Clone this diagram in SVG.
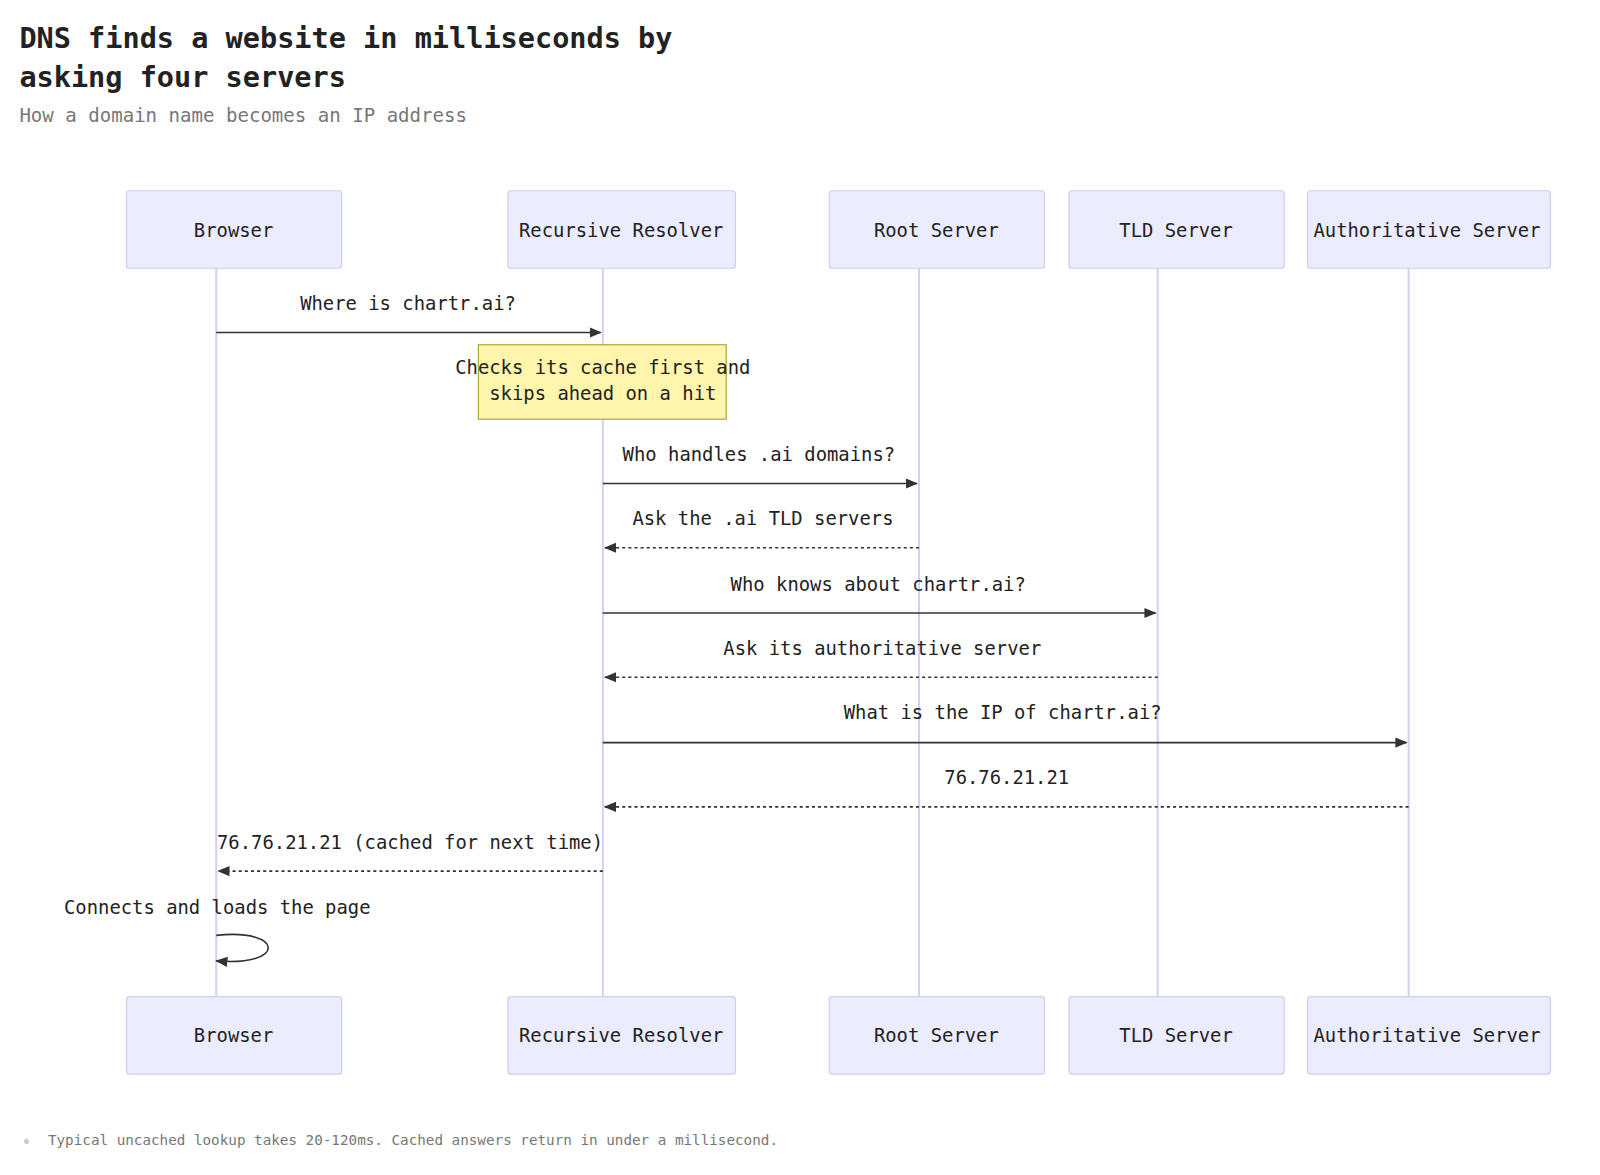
<svg xmlns="http://www.w3.org/2000/svg" width="1600" height="1175" viewBox="0 0 1600 1175">
<style>
text{font-family:"DejaVu Sans Mono","Liberation Mono",monospace;fill:#222}
.actor rect{fill:#ececff;stroke:#cfcdf0;stroke-width:1.2}
.actor text{font-size:18.5px;text-anchor:middle;dominant-baseline:central}
.life{stroke:#d4d0f0;stroke-width:2}
.msg{stroke:#333;stroke-width:1.6;fill:none}
.dash{stroke-dasharray:3,3}
.lbl{font-size:18.5px;text-anchor:middle}
</style>
<defs>
<marker id="ah" markerWidth="12" markerHeight="12" refX="11" refY="6" orient="auto" markerUnits="userSpaceOnUse"><path d="M0,1 L12,6 L0,11 z" fill="#333"/></marker>
</defs>
<rect width="1600" height="1175" fill="#fff"/>
<g transform="scale(1.02)">
<text x="19" y="47" font-size="28" font-weight="bold" fill="#1a1a2e">DNS finds a website in milliseconds by</text>
<text x="19" y="85" font-size="28" font-weight="bold" fill="#1a1a2e">asking four servers</text>
<text x="19" y="120" font-size="18.7" style="fill:#777">How a domain name becomes an IP address</text>
<g id="lifelines">
<line class="life" x1="212" y1="263" x2="212" y2="977"/>
<line class="life" x1="591" y1="263" x2="591" y2="977"/>
<line class="life" x1="901" y1="263" x2="901" y2="977"/>
<line class="life" x1="1135" y1="263" x2="1135" y2="977"/>
<line class="life" x1="1381" y1="263" x2="1381" y2="977"/>
</g>
<g id="browser-top" class="actor"><rect x="124" y="187" width="211" height="76" rx="3"/><text x="229" y="225">Browser</text></g>
<g id="resolver-top" class="actor"><rect x="498" y="187" width="223" height="76" rx="3"/><text x="609" y="225">Recursive Resolver</text></g>
<g id="root-top" class="actor"><rect x="813" y="187" width="211" height="76" rx="3"/><text x="918" y="225">Root Server</text></g>
<g id="tld-top" class="actor"><rect x="1048" y="187" width="211" height="76" rx="3"/><text x="1153" y="225">TLD Server</text></g>
<g id="auth-top" class="actor"><rect x="1282" y="187" width="238" height="76" rx="3"/><text x="1399" y="225">Authoritative Server</text></g>
<g id="browser-bottom" class="actor"><rect x="124" y="977" width="211" height="76" rx="3"/><text x="229" y="1015">Browser</text></g>
<g id="resolver-bottom" class="actor"><rect x="498" y="977" width="223" height="76" rx="3"/><text x="609" y="1015">Recursive Resolver</text></g>
<g id="root-bottom" class="actor"><rect x="813" y="977" width="211" height="76" rx="3"/><text x="918" y="1015">Root Server</text></g>
<g id="tld-bottom" class="actor"><rect x="1048" y="977" width="211" height="76" rx="3"/><text x="1153" y="1015">TLD Server</text></g>
<g id="auth-bottom" class="actor"><rect x="1282" y="977" width="238" height="76" rx="3"/><text x="1399" y="1015">Authoritative Server</text></g>
<g id="note">
<rect x="469" y="338" width="243" height="73" fill="#fff5ad" stroke="#aaaa33" stroke-width="1.2"/>
<text class="lbl" x="591" y="367">Checks its cache first and</text>
<text class="lbl" x="591" y="392">skips ahead on a hit</text>
</g>
<g id="connectors">
<text class="lbl" x="400" y="304">Where is chartr.ai?</text>
<line class="msg" x1="212" y1="326" x2="589" y2="326" marker-end="url(#ah)"/>
<text class="lbl" x="744" y="452">Who handles .ai domains?</text>
<line class="msg" x1="591" y1="474" x2="899" y2="474" marker-end="url(#ah)"/>
<text class="lbl" x="748" y="515">Ask the .ai TLD servers</text>
<line class="msg dash" x1="901" y1="537" x2="593" y2="537" marker-end="url(#ah)"/>
<text class="lbl" x="861" y="579">Who knows about chartr.ai?</text>
<line class="msg" x1="591" y1="601" x2="1133" y2="601" marker-end="url(#ah)"/>
<text class="lbl" x="865" y="642">Ask its authoritative server</text>
<line class="msg dash" x1="1135" y1="664" x2="593" y2="664" marker-end="url(#ah)"/>
<text class="lbl" x="983" y="705">What is the IP of chartr.ai?</text>
<line class="msg" x1="591" y1="728" x2="1379" y2="728" marker-end="url(#ah)"/>
<text class="lbl" x="987" y="769">76.76.21.21</text>
<line class="msg dash" x1="1381" y1="791" x2="593" y2="791" marker-end="url(#ah)"/>
<text class="lbl" x="402" y="832">76.76.21.21 (cached for next time)</text>
<line class="msg dash" x1="591" y1="854" x2="214" y2="854" marker-end="url(#ah)"/>
<text class="lbl" x="213" y="896">Connects and loads the page</text>
<path class="msg" d="M212,917 C280,910 280,948 212,942" marker-end="url(#ah)"/>
</g>
<circle cx="26" cy="1119" r="2.5" fill="#ccc"/>
<text x="47" y="1123" font-size="14" style="fill:#777">Typical uncached lookup takes 20-120ms. Cached answers return in under a millisecond.</text>
</g>
</svg>
